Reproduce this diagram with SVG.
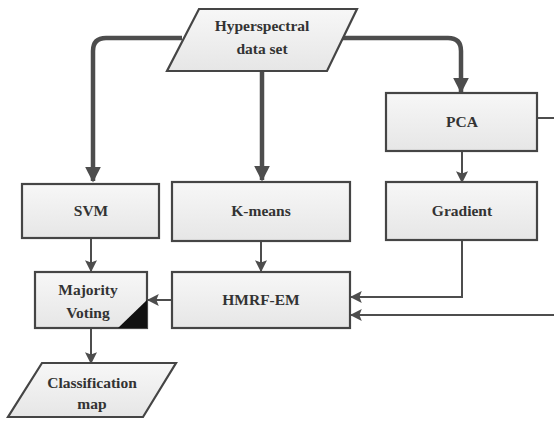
<svg xmlns="http://www.w3.org/2000/svg" width="554" height="424" viewBox="0 0 554 424">
<style>
.box{fill:url(#g);stroke:#454545;stroke-width:2.2}
.t{font-family:"Liberation Serif","Times New Roman",serif;font-weight:bold;font-size:15.5px;fill:#333;text-anchor:middle}
.thick{fill:none;stroke:#4d4d4d;stroke-width:4.5}
.thin{fill:none;stroke:#4d4d4d;stroke-width:2}
</style>
<defs>
<linearGradient id="g" x1="0" y1="0" x2="0" y2="1">
<stop offset="0" stop-color="#f7f7f7"/>
<stop offset="1" stop-color="#e6e6e6"/>
</linearGradient>
<marker id="ab" viewBox="0 0 10 10" refX="9" refY="5" markerWidth="16" markerHeight="16" orient="auto" markerUnits="userSpaceOnUse">
<path d="M0,0 L10,5 L0,10 Z" fill="#4d4d4d"/>
</marker>
<marker id="as" viewBox="0 0 10 10" refX="9" refY="5" markerWidth="12" markerHeight="12" orient="auto" markerUnits="userSpaceOnUse">
<path d="M0,0 L10,5 L0,10 L2,5 Z" fill="#4d4d4d"/>
</marker>
</defs>
<g id="connectors">
<path class="thick" d="M182,38 H106 Q93,38 93,51 V181" marker-end="url(#ab)"/>
<path class="thick" d="M262,71 V180" marker-end="url(#ab)"/>
<path class="thick" d="M342,38 H448 Q461,38 461,51 V92" marker-end="url(#ab)"/>
<path class="thin" d="M91,238 V271" marker-end="url(#as)"/>
<path class="thin" d="M261,241 V271" marker-end="url(#as)"/>
<path class="thin" d="M462,151 V182" marker-end="url(#as)"/>
<path class="thin" d="M462,240 V297 H351" marker-end="url(#as)"/>
<path class="thin" d="M537,118 H560 V315 H351" marker-end="url(#as)"/>
<path class="thin" d="M172,300 H148" marker-end="url(#as)"/>
<path class="thin" d="M91,328 V363" marker-end="url(#as)"/>
</g>
<g id="hyperspectral">
<polygon class="box" points="199,9 357,9 327,71 167,71"/>
<text class="t" x="262" y="31">Hyperspectral</text>
<text class="t" x="262" y="54">data set</text>
</g>
<g id="svm">
<rect class="box" x="22" y="184" width="137" height="54"/>
<text class="t" x="91" y="216">SVM</text>
</g>
<g id="kmeans">
<rect class="box" x="172" y="182" width="178" height="59"/>
<text class="t" x="261" y="216">K-means</text>
</g>
<g id="pca">
<rect class="box" x="386" y="93" width="151" height="58"/>
<text class="t" x="462" y="127">PCA</text>
</g>
<g id="gradient">
<rect class="box" x="386" y="182" width="151" height="58"/>
<text class="t" x="462" y="216">Gradient</text>
</g>
<g id="majority">
<rect class="box" x="35" y="272" width="112" height="56"/>
<polygon points="147,300 147,328 118,328" fill="#111"/>
<text class="t" x="88" y="295">Majority</text>
<text class="t" x="88" y="318">Voting</text>
</g>
<g id="hmrf">
<rect class="box" x="172" y="272" width="178" height="56"/>
<text class="t" x="261" y="305">HMRF-EM</text>
</g>
<g id="classification">
<polygon class="box" points="42,363 176,363 143,417 8,417"/>
<text class="t" x="92" y="388">Classification</text>
<text class="t" x="92" y="409">map</text>
</g>
</svg>
